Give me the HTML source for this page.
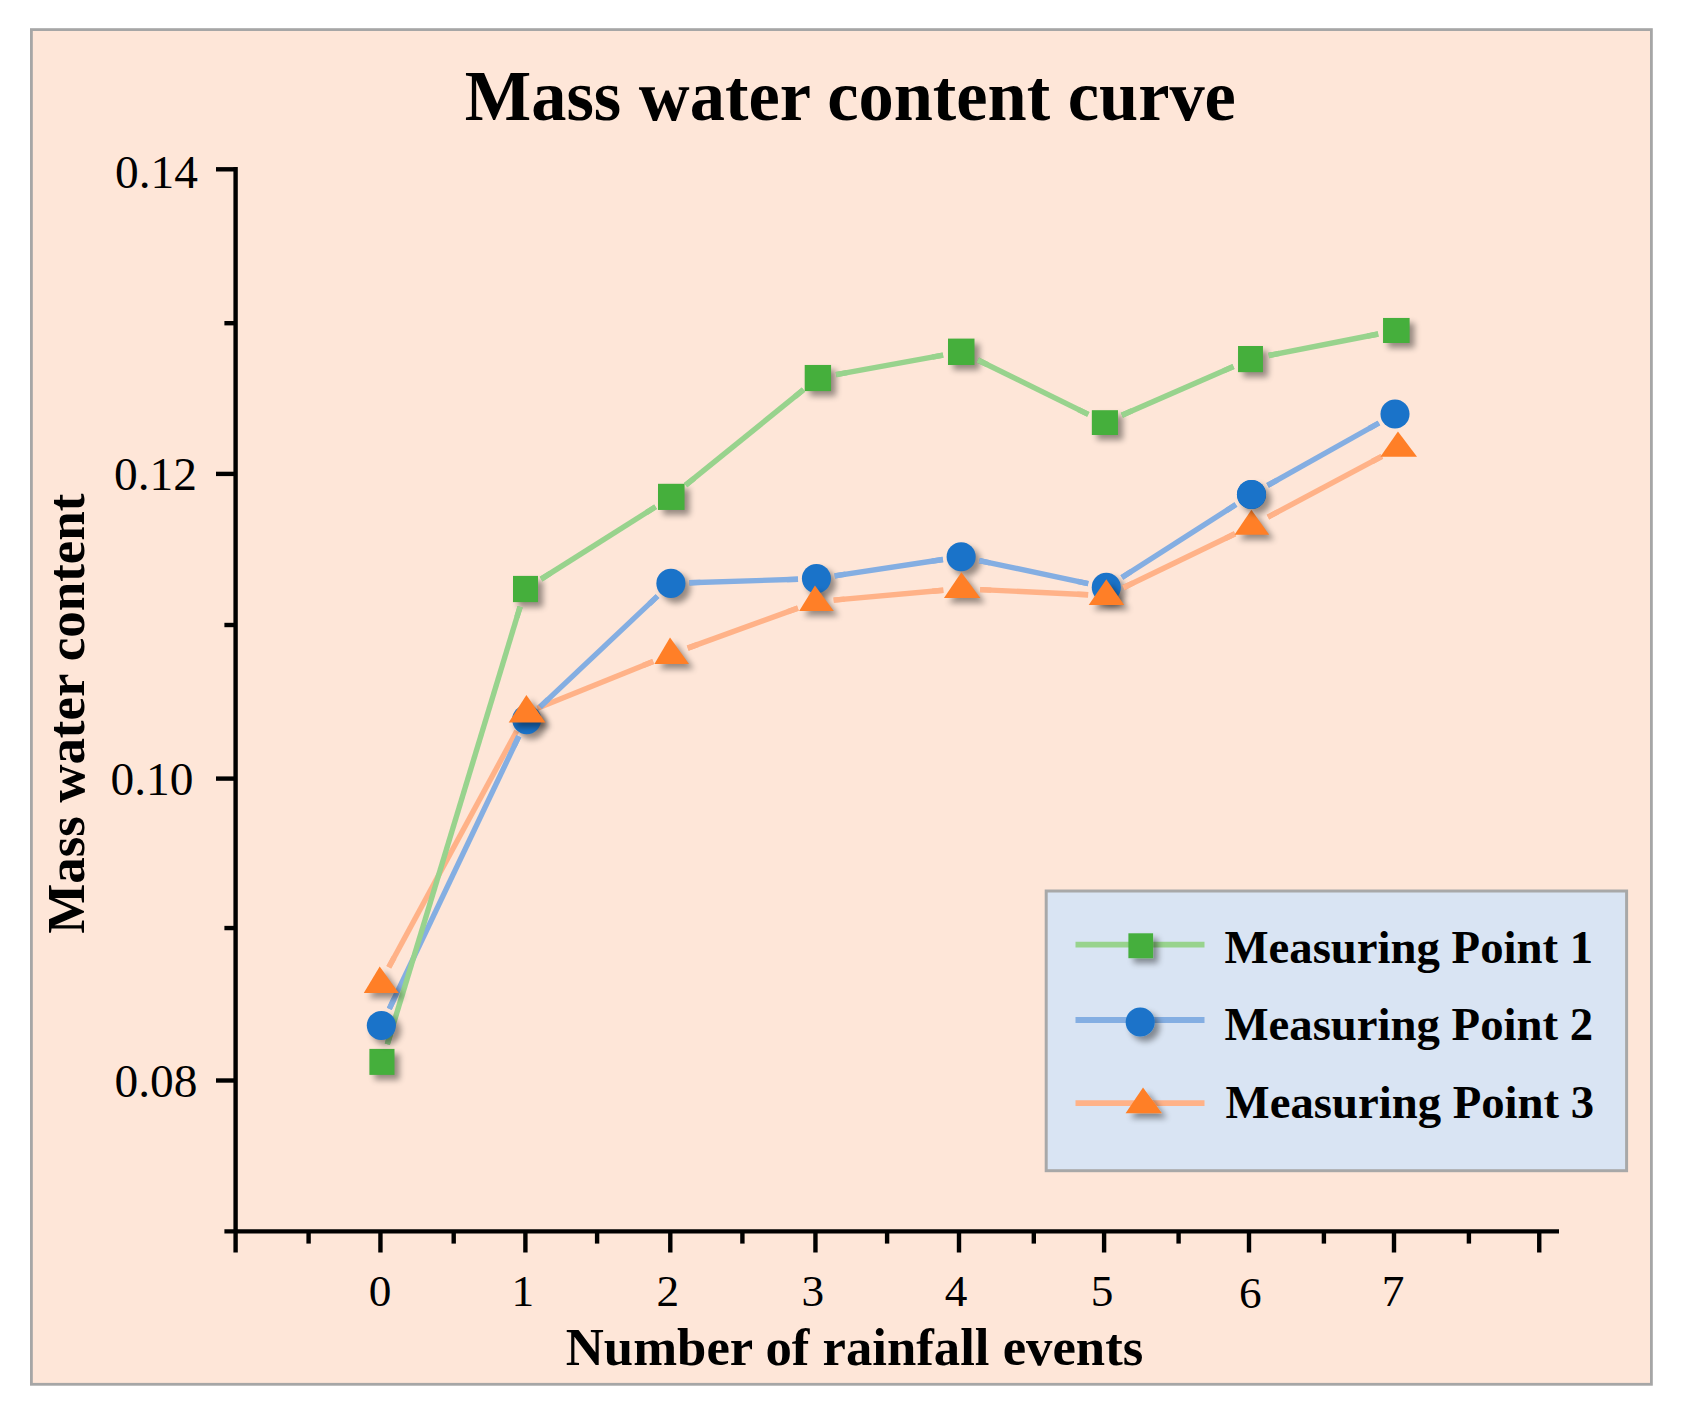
<!DOCTYPE html>
<html lang="en"><head><meta charset="utf-8"><title>Mass water content curve</title>
<style>
html,body{margin:0;padding:0;background:#fff;}
body{width:1684px;height:1419px;overflow:hidden;}
svg{display:block;}
text{font-family:"Liberation Serif","Times New Roman",serif;fill:#000;}
.b{font-weight:bold;}
</style></head><body>
<svg width="1684" height="1419" viewBox="0 0 1684 1419">
<defs>
<filter id="sh" x="-50%" y="-50%" width="220%" height="220%">
<feGaussianBlur in="SourceAlpha" stdDeviation="3.2" result="b"/>
<feOffset in="b" dx="5.4" dy="5.4" result="o"/>
<feComponentTransfer in="o" result="s"><feFuncA type="linear" slope="0.41"/></feComponentTransfer>
<feMerge><feMergeNode in="s"/><feMergeNode in="SourceGraphic"/></feMerge>
</filter>
<filter id="shO" x="-50%" y="-50%" width="220%" height="220%">
<feGaussianBlur in="SourceAlpha" stdDeviation="3.2" result="b"/>
<feOffset in="b" dx="5.4" dy="5.4" result="o"/>
<feComponentTransfer in="o"><feFuncA type="linear" slope="0.41"/></feComponentTransfer>
</filter>
</defs>
<rect x="0" y="0" width="1684" height="1419" fill="#ffffff"/>
<rect x="31.4" y="29.6" width="1620" height="1354.7" fill="#fee6d8" stroke="#a6a6a6" stroke-width="2.8"/>
<text class="b" font-size="70.42" transform="translate(464.8,119.7) scale(1,1.028)">Mass water content curve</text>
<g stroke="#000" stroke-width="4.4" fill="none"><line x1="235.6" y1="167.1" x2="235.6" y2="1252.5"/><line x1="224.4" y1="1231.4" x2="1559" y2="1231.4"/><line x1="216" y1="169.3" x2="235.6" y2="169.3"/><line x1="216" y1="473.9" x2="235.6" y2="473.9"/><line x1="216" y1="778.6" x2="235.6" y2="778.6"/><line x1="216" y1="1080.5" x2="235.6" y2="1080.5"/><line x1="224.4" y1="323.2" x2="235.6" y2="323.2"/><line x1="224.4" y1="625.0" x2="235.6" y2="625.0"/><line x1="224.4" y1="928.05" x2="235.6" y2="928.05"/><line x1="308.60" y1="1231.4" x2="308.60" y2="1243.6"/><line x1="380.45" y1="1231.4" x2="380.45" y2="1252.5"/><line x1="453.70" y1="1231.4" x2="453.70" y2="1243.6"/><line x1="525.40" y1="1231.4" x2="525.40" y2="1252.5"/><line x1="597.10" y1="1231.4" x2="597.10" y2="1243.6"/><line x1="670.30" y1="1231.4" x2="670.30" y2="1252.5"/><line x1="742.40" y1="1231.4" x2="742.40" y2="1243.6"/><line x1="815.45" y1="1231.4" x2="815.45" y2="1252.5"/><line x1="887.10" y1="1231.4" x2="887.10" y2="1243.6"/><line x1="959.00" y1="1231.4" x2="959.00" y2="1252.5"/><line x1="1033.80" y1="1231.4" x2="1033.80" y2="1243.6"/><line x1="1104.10" y1="1231.4" x2="1104.10" y2="1252.5"/><line x1="1178.60" y1="1231.4" x2="1178.60" y2="1243.6"/><line x1="1249.00" y1="1231.4" x2="1249.00" y2="1252.5"/><line x1="1323.90" y1="1231.4" x2="1323.90" y2="1243.6"/><line x1="1394.00" y1="1231.4" x2="1394.00" y2="1252.5"/><line x1="1468.90" y1="1231.4" x2="1468.90" y2="1243.6"/><line x1="1539.25" y1="1231.4" x2="1539.25" y2="1252.5"/></g>
<text x="115.0" y="187.9" font-size="47.4">0.14</text><text x="114.0" y="490.1" font-size="47.4">0.12</text><text x="110.5" y="795.4" font-size="47.4">0.10</text><text x="114.5" y="1097.3" font-size="47.4">0.08</text><text x="380.0" y="1306.0" font-size="45.3" text-anchor="middle">0</text><text x="522.9" y="1306.0" font-size="45.3" text-anchor="middle">1</text><text x="667.9" y="1306.0" font-size="45.3" text-anchor="middle">2</text><text x="812.9" y="1306.0" font-size="45.3" text-anchor="middle">3</text><text x="956.0" y="1306.0" font-size="45.3" text-anchor="middle">4</text><text x="1102.1" y="1306.0" font-size="45.3" text-anchor="middle">5</text><text x="1250.4" y="1308.2" font-size="45.3" text-anchor="middle">6</text><text x="1393.1" y="1306.0" font-size="45.3" text-anchor="middle">7</text>
<text class="b" x="565.8" y="1364.7" font-size="52.72">Number of rainfall events</text>
<text class="b" font-size="52.95" transform="translate(84.1,933.7) rotate(-90)">Mass water content</text>
<g stroke="#ffb288" stroke-width="5.4" fill="none"><line x1="388.8" y1="967.3" x2="516.7" y2="731.0"/><line x1="537.4" y1="708.2" x2="653.2" y2="661.4"/><line x1="687.7" y1="648.1" x2="797.9" y2="608.1"/><line x1="833.7" y1="600.1" x2="943.3" y2="590.3"/><line x1="980.2" y1="589.6" x2="1088.1" y2="594.8"/><line x1="1123.3" y1="587.7" x2="1235.0" y2="533.8"/><line x1="1268.0" y1="517.1" x2="1381.9" y2="456.4"/></g>
<g stroke="#84aee2" stroke-width="5.4" fill="none"><line x1="389.3" y1="1008.8" x2="518.8" y2="736.3"/><line x1="540.1" y1="706.9" x2="657.5" y2="596.1"/><line x1="689.4" y1="582.8" x2="798.0" y2="579.2"/><line x1="834.7" y1="575.8" x2="942.9" y2="559.5"/><line x1="979.3" y1="560.6" x2="1088.2" y2="583.6"/><line x1="1121.9" y1="577.4" x2="1235.9" y2="504.5"/><line x1="1267.6" y1="485.4" x2="1378.9" y2="423.0"/></g>
<g stroke="#98d38d" stroke-width="5.4" fill="none"><line x1="387.3" y1="1044.2" x2="520.1" y2="606.7"/><line x1="541.1" y1="579.1" x2="655.6" y2="506.8"/><line x1="685.6" y1="485.2" x2="803.5" y2="389.7"/><line x1="836.1" y1="374.7" x2="943.1" y2="355.1"/><line x1="977.8" y1="360.0" x2="1088.3" y2="414.4"/><line x1="1121.9" y1="415.2" x2="1233.5" y2="366.5"/><line x1="1268.7" y1="355.5" x2="1378.2" y2="334.0"/></g>
<g filter="url(#shO)"><rect x="369.40" y="1048.90" width="25.10" height="26.00" fill="#45af3c"/><rect x="513.00" y="575.90" width="25.00" height="26.20" fill="#45af3c"/><rect x="658.00" y="483.80" width="26.55" height="26.15" fill="#45af3c"/><rect x="804.70" y="364.96" width="26.37" height="26.13" fill="#45af3c"/><rect x="948.00" y="338.60" width="26.50" height="26.40" fill="#45af3c"/><rect x="1091.84" y="410.20" width="26.13" height="24.80" fill="#45af3c"/><rect x="1238.03" y="346.00" width="24.94" height="26.14" fill="#45af3c"/><rect x="1383.03" y="317.96" width="26.57" height="25.04" fill="#45af3c"/></g><g stroke="#98d38d" stroke-width="5.4" fill="none"><line x1="387.3" y1="1044.2" x2="390.5" y2="1033.7"/><line x1="520.1" y1="606.7" x2="516.9" y2="617.2"/><line x1="541.1" y1="579.1" x2="550.4" y2="573.2"/><line x1="655.6" y1="506.8" x2="646.3" y2="512.6"/><line x1="685.6" y1="485.2" x2="694.2" y2="478.3"/><line x1="803.5" y1="389.7" x2="795.0" y2="396.6"/><line x1="836.1" y1="374.7" x2="846.9" y2="372.7"/><line x1="943.1" y1="355.1" x2="932.2" y2="357.1"/><line x1="977.8" y1="360.0" x2="987.7" y2="364.8"/><line x1="1088.3" y1="414.4" x2="1078.4" y2="409.6"/><line x1="1121.9" y1="415.2" x2="1131.9" y2="410.8"/><line x1="1233.5" y1="366.5" x2="1223.5" y2="370.9"/><line x1="1268.7" y1="355.5" x2="1279.4" y2="353.4"/><line x1="1378.2" y1="334.0" x2="1367.4" y2="336.2"/></g><rect x="369.40" y="1048.90" width="25.10" height="26.00" fill="#45af3c"/><rect x="513.00" y="575.90" width="25.00" height="26.20" fill="#45af3c"/><rect x="658.00" y="483.80" width="26.55" height="26.15" fill="#45af3c"/><rect x="804.70" y="364.96" width="26.37" height="26.13" fill="#45af3c"/><rect x="948.00" y="338.60" width="26.50" height="26.40" fill="#45af3c"/><rect x="1091.84" y="410.20" width="26.13" height="24.80" fill="#45af3c"/><rect x="1238.03" y="346.00" width="24.94" height="26.14" fill="#45af3c"/><rect x="1383.03" y="317.96" width="26.57" height="25.04" fill="#45af3c"/>
<g filter="url(#shO)"><circle cx="381.35" cy="1025.50" r="14.55" fill="#1a73c9"/><circle cx="526.70" cy="719.60" r="14.55" fill="#1a73c9"/><circle cx="670.90" cy="583.40" r="14.55" fill="#1a73c9"/><circle cx="816.45" cy="578.60" r="14.55" fill="#1a73c9"/><circle cx="961.15" cy="556.75" r="14.55" fill="#1a73c9"/><circle cx="1106.30" cy="587.40" r="14.55" fill="#1a73c9"/></g><g stroke="#84aee2" stroke-width="5.4" fill="none"><line x1="389.3" y1="1008.8" x2="394.0" y2="998.9"/><line x1="518.8" y1="736.3" x2="514.0" y2="746.2"/><line x1="540.1" y1="706.9" x2="548.1" y2="699.3"/><line x1="657.5" y1="596.1" x2="649.5" y2="603.7"/><line x1="689.4" y1="582.8" x2="700.4" y2="582.4"/><line x1="798.0" y1="579.2" x2="787.0" y2="579.6"/><line x1="834.7" y1="575.8" x2="845.6" y2="574.2"/><line x1="942.9" y1="559.5" x2="932.0" y2="561.2"/><line x1="979.3" y1="560.6" x2="990.0" y2="562.8"/><line x1="1088.2" y1="583.6" x2="1077.4" y2="581.3"/><line x1="1121.9" y1="577.4" x2="1131.1" y2="571.5"/><line x1="1235.9" y1="504.5" x2="1226.7" y2="510.4"/><line x1="1267.6" y1="485.4" x2="1277.2" y2="480.1"/><line x1="1378.9" y1="423.0" x2="1369.3" y2="428.4"/></g><circle cx="381.35" cy="1025.50" r="14.55" fill="#1a73c9"/><circle cx="526.70" cy="719.60" r="14.55" fill="#1a73c9"/><circle cx="670.90" cy="583.40" r="14.55" fill="#1a73c9"/><circle cx="816.45" cy="578.60" r="14.55" fill="#1a73c9"/><circle cx="961.15" cy="556.75" r="14.55" fill="#1a73c9"/><circle cx="1106.30" cy="587.40" r="14.55" fill="#1a73c9"/><circle cx="1251.50" cy="494.50" r="14.55" fill="#1a73c9"/><circle cx="1395.00" cy="413.95" r="14.55" fill="#1a73c9"/>
<g filter="url(#shO)"><polygon points="379.70,966.50 398.80,993.10 363.80,993.10" fill="#ff7f27"/><polygon points="526.40,695.00 545.40,722.40 508.70,722.40" fill="#ff7f27"/><polygon points="670.00,637.50 689.00,663.96 654.40,663.96" fill="#ff7f27"/><polygon points="814.95,585.50 833.80,610.90 799.20,610.90" fill="#ff7f27"/><polygon points="961.40,572.30 980.30,597.90 943.96,597.90" fill="#ff7f27"/><polygon points="1106.30,579.20 1124.20,605.06 1088.70,605.06" fill="#ff7f27"/><polygon points="1251.40,509.70 1269.20,534.80 1234.50,534.80" fill="#ff7f27"/></g><g stroke="#ffb288" stroke-width="5.4" fill="none"><line x1="388.8" y1="967.3" x2="394.0" y2="957.6"/><line x1="653.2" y1="661.4" x2="643.0" y2="665.5"/><line x1="687.7" y1="648.1" x2="698.0" y2="644.4"/><line x1="797.9" y1="608.1" x2="787.5" y2="611.8"/><line x1="833.7" y1="600.1" x2="844.6" y2="599.1"/><line x1="943.3" y1="590.3" x2="932.3" y2="591.3"/><line x1="980.2" y1="589.6" x2="991.2" y2="590.1"/><line x1="1088.1" y1="594.8" x2="1077.1" y2="594.3"/><line x1="1123.3" y1="587.7" x2="1133.2" y2="582.9"/><line x1="1235.0" y1="533.8" x2="1225.1" y2="538.6"/><line x1="1268.0" y1="517.1" x2="1277.7" y2="511.9"/><line x1="1381.9" y1="456.4" x2="1372.2" y2="461.5"/></g><polygon points="379.70,966.50 398.80,993.10 363.80,993.10" fill="#ff7f27"/><polygon points="526.40,695.00 545.40,722.40 508.70,722.40" fill="#ff7f27"/><polygon points="670.00,637.50 689.00,663.96 654.40,663.96" fill="#ff7f27"/><polygon points="814.95,585.50 833.80,610.90 799.20,610.90" fill="#ff7f27"/><polygon points="961.40,572.30 980.30,597.90 943.96,597.90" fill="#ff7f27"/><polygon points="1106.30,579.20 1124.20,605.06 1088.70,605.06" fill="#ff7f27"/><polygon points="1251.40,509.70 1269.20,534.80 1234.50,534.80" fill="#ff7f27"/><polygon points="1397.95,431.40 1417.00,456.80 1380.40,456.80" fill="#ff7f27"/>
<g filter="url(#shO)"><circle cx="1251.50" cy="494.50" r="14.55" fill="#1a73c9"/></g><circle cx="1251.50" cy="494.50" r="14.55" fill="#1a73c9"/>
<rect x="1046.2" y="891" width="580.4" height="279.7" fill="#d9e4f3" stroke="#a8a8a8" stroke-width="3"/>
<g stroke-width="5.8" fill="none"><line x1="1075.5" y1="944.7" x2="1204.5" y2="944.7" stroke="#98d38d"/><line x1="1075.5" y1="1020" x2="1204.5" y2="1020" stroke="#84aee2"/><line x1="1075.5" y1="1103.2" x2="1204.5" y2="1103.2" stroke="#ffb288"/></g>
<g filter="url(#sh)"><rect x="1128.40" y="933.30" width="24.70" height="24.90" fill="#45af3c"/><circle cx="1140.20" cy="1022.00" r="14.55" fill="#1a73c9"/><polygon points="1143.00,1087.60 1162.00,1113.20 1125.60,1113.20" fill="#ff7f27"/></g>
<text class="b" x="1224.5" y="962.6" font-size="46.72">Measuring Point 1</text><text class="b" x="1224.5" y="1040.0" font-size="46.72">Measuring Point 2</text><text class="b" x="1225.6" y="1118.0" font-size="46.72">Measuring Point 3</text>
</svg></body></html>
